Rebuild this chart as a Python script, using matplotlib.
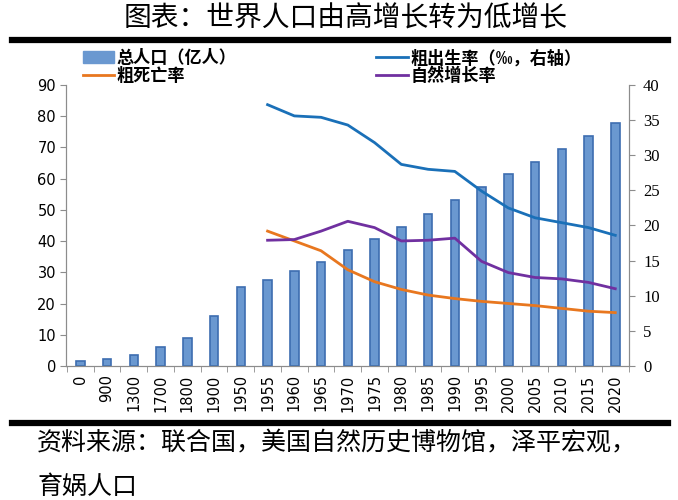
import numpy as np
import matplotlib.pyplot as plt
from matplotlib.patches import Patch
from matplotlib.lines import Line2D

plt.rcParams['font.family'] = ['Noto Sans CJK SC', 'DejaVu Sans']

# data
years = ['0', '900', '1300', '1700', '1800', '1900', '1950', '1955', '1960', '1965', '1970',
         '1975', '1980', '1985', '1990', '1995', '2000', '2005', '2010', '2015', '2020']
population = [1.7, 2.2, 3.6, 6.0, 9.0, 16.0, 25.4, 27.7, 30.3, 33.4, 37.0,
              40.8, 44.5, 48.6, 53.3, 57.4, 61.4, 65.4, 69.5, 73.6, 77.9]
rate_years = years[7:]
birth_rate = [37.2, 35.6, 35.4, 34.3, 31.8, 28.7, 28.0, 27.7, 24.9, 22.5, 21.1, 20.4, 19.7, 18.6]
death_rate = [19.2, 17.8, 16.4, 13.7, 12.0, 10.9, 10.1, 9.6, 9.2, 8.9, 8.6, 8.2, 7.8, 7.6]
natural_rate = [17.9, 18.0, 19.2, 20.6, 19.7, 17.8, 17.9, 18.2, 14.9, 13.3, 12.6, 12.4, 11.9, 11.0]

c_bar = '#6a98d0'
c_edge = '#3d6db0'
c_birth = '#1a70b8'
c_death = '#e8771f'
c_nat = '#7030a0'
grey = '#8c8c8c'

fig = plt.figure(figsize=(6.78, 5), dpi=100)
ax = fig.add_axes([0.098, 0.268, 0.830, 0.562])
ax2 = ax.twinx()

x = np.arange(len(years))
ax.bar(x, population, width=0.32, color=c_bar, edgecolor=c_edge, linewidth=1.2, zorder=2)
ax.set_xlim(-0.52, len(years) - 0.48)
ax.set_ylim(0, 90)
ax.set_yticks(range(0, 91, 10))
ax.set_xticks(x)
ax.set_xticklabels(years, rotation=90, fontsize=10.5, family='DejaVu Sans')
ax.set_xticks(np.arange(len(years) + 1) - 0.5, minor=True)
ax.tick_params(axis='x', which='major', length=0, pad=6)
ax.tick_params(axis='x', which='minor', length=4, color=grey)
ax.tick_params(axis='y', length=4, color=grey, labelsize=10.5)
for t in ax.get_yticklabels():
    t.set_family('DejaVu Sans')

rx = x[7:]
ax2.plot(rx, birth_rate, color=c_birth, lw=2.0, zorder=3)
ax2.plot(rx, death_rate, color=c_death, lw=2.0, zorder=3)
ax2.plot(rx, natural_rate, color=c_nat, lw=2.0, zorder=3)
ax2.set_ylim(0, 40)
ax2.set_yticks(range(0, 41, 5))
ax2.tick_params(axis='y', length=4, color=grey, labelsize=12, pad=6)
for t in ax2.get_yticklabels():
    t.set_family('Liberation Serif')

for a in (ax, ax2):
    a.spines['top'].set_visible(False)
    for s in ('left', 'right', 'bottom'):
        a.spines[s].set_color(grey)

# legends
h_pop = Patch(facecolor=c_bar, edgecolor=c_bar)
h_death = Line2D([], [], color=c_death, lw=2)
h_birth = Line2D([], [], color=c_birth, lw=2)
h_nat = Line2D([], [], color=c_nat, lw=2)
leg_kw = dict(frameon=False, prop={'family': 'Noto Sans CJK SC', 'weight': 'bold', 'size': 12.3},
              handlelength=1.85, handletextpad=0.15, labelspacing=0.0, borderaxespad=0)
fig.legend([h_pop, h_death], ['总人口（亿人）', '粗死亡率'], loc='upper left',
           bbox_to_anchor=(0.112, 0.915), **leg_kw)
fig.legend([h_birth, h_nat], ['粗出生率（‰，右轴）', '自然增长率'], loc='upper left',
           bbox_to_anchor=(0.545, 0.915), **leg_kw)

# title, rules, source
fig.text(0.51, 0.962, '图表：世界人口由高增长转为低增长', ha='center', va='center',
         fontsize=20, weight='light')
fig.add_artist(Line2D([0.018, 0.985], [0.92, 0.92], color='black', lw=4.5))
fig.add_artist(Line2D([0.018, 0.985], [0.155, 0.155], color='black', lw=4.5))
fig.text(0.055, 0.115, '资料来源：联合国，美国自然历史博物馆，泽平宏观，', ha='left', va='center',
         fontsize=18, weight='light', style='italic')
fig.text(0.055, 0.025, '育娲人口', ha='left', va='center',
         fontsize=18, weight='light', style='italic')

fig.savefig('out.png', dpi=100)
